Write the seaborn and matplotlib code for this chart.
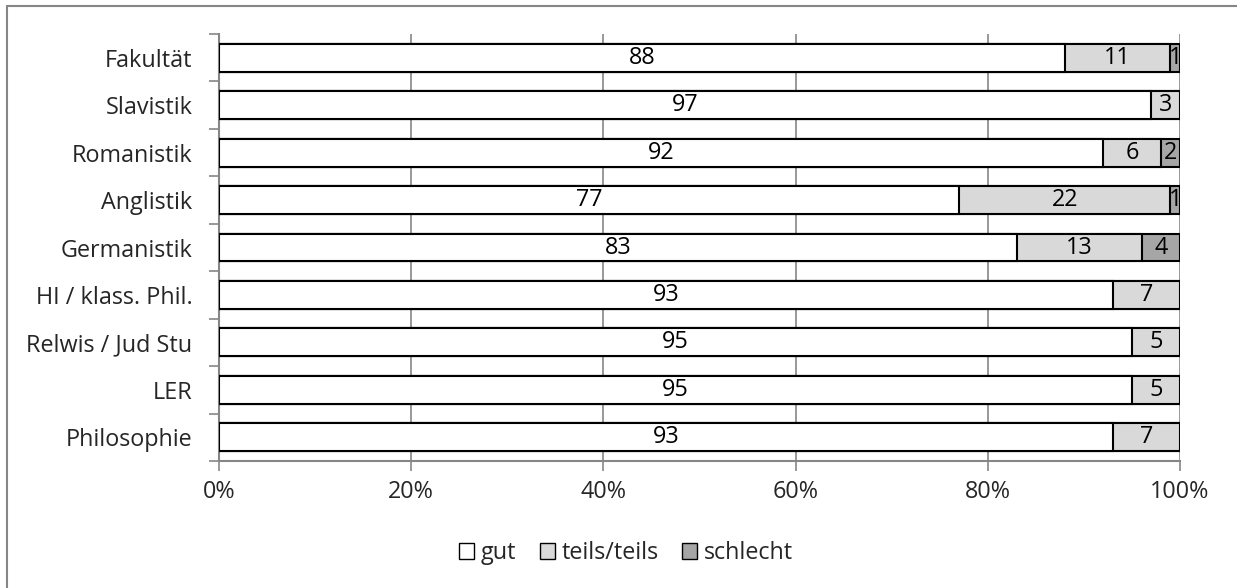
import matplotlib
matplotlib.use("Agg")
import matplotlib.pyplot as plt
import seaborn as sns
import pandas as pd
import numpy as np
from matplotlib.patches import Patch
from matplotlib.lines import Line2D
from matplotlib.ticker import FuncFormatter, FixedLocator

categories = ["Fakultät", "Slavistik", "Romanistik", "Anglistik", "Germanistik",
              "HI / klass. Phil.", "Relwis / Jud Stu", "LER", "Philosophie"]
gut = [88, 97, 92, 77, 83, 93, 95, 95, 93]
teils = [11, 3, 6, 22, 13, 7, 5, 5, 7]
schlecht = [1, 0, 2, 1, 4, 0, 0, 0, 0]
series_names = ["gut", "teils/teils", "schlecht"]
colors = ["#FFFFFF", "#D9D9D9", "#A6A6A6"]

sns.set_theme(style="white")
plt.rcParams["font.family"] = ["Open Sans", "DejaVu Sans"]
FS = 16.8

df = pd.DataFrame({"cat": categories, "gut": gut, "teils": teils, "schlecht": schlecht})
df["c1"] = df["gut"]
df["c2"] = df["gut"] + df["teils"]
df["c3"] = df["c2"] + df["schlecht"]

fig = plt.figure(figsize=(12.37, 5.88), dpi=100)
ax = fig.add_axes([219 / 1237, 1 - 461 / 588, (1180 - 219) / 1237, (461 - 34) / 588])

# stacked bars: draw the cumulative totals from longest to shortest
for col, color in zip(["c3", "c2", "c1"], colors[::-1]):
    sns.barplot(data=df, x=col, y="cat", orient="h", color=color, saturation=1,
                width=0.59, edgecolor="black", linewidth=1.5, ax=ax, zorder=3)

# segment value labels
for i, row in df.iterrows():
    left = 0
    for key in ["gut", "teils", "schlecht"]:
        v = row[key]
        if v > 0:
            ax.text(left + v / 2, i, f"{v}", ha="center", va="center",
                    fontsize=FS, color="black", zorder=5)
        left += v

ax.set_xlim(0, 100)
ax.set_ylim(len(categories) - 0.5, -0.5)
ax.set_xlabel("")
ax.set_ylabel("")

grid_col = "#868686"
ax.xaxis.set_major_locator(FixedLocator([0, 20, 40, 60, 80, 100]))
ax.xaxis.set_major_formatter(FuncFormatter(lambda v, p: f"{v:.0f}%"))
ax.grid(axis="x", color=grid_col, linewidth=1.2, zorder=0)
ax.set_axisbelow(True)

for s in ["top", "right"]:
    ax.spines[s].set_visible(False)
for s in ["left", "bottom"]:
    ax.spines[s].set_color(grid_col)
    ax.spines[s].set_linewidth(1.5)

ax.tick_params(axis="x", which="major", direction="out", length=7, width=1.2,
               color=grid_col, labelsize=FS, pad=7, bottom=True)
ax.set_yticks(np.arange(len(categories)))
ax.set_yticklabels(categories)
ax.tick_params(axis="y", which="major", length=0, labelsize=FS, pad=19)
ax.set_yticks(np.arange(len(categories) + 1) - 0.5, minor=True)
ax.tick_params(axis="y", which="minor", direction="out", length=7, width=1.2,
               color=grid_col, left=True)

handles = [Patch(facecolor=c, edgecolor="black", linewidth=1.0, label=n)
           for c, n in zip(colors, series_names)]
fig.legend(handles=handles, loc="center", bbox_to_anchor=(0.506, 1 - 553 / 588),
           ncol=3, frameon=False, fontsize=FS, handlelength=0.64, handleheight=0.64,
           handletextpad=0.3, columnspacing=1.0)

# outer chart frame
fig.add_artist(Line2D([6.5 / 1237, 6.5 / 1237], [0, 1 - 5.5 / 588],
                      transform=fig.transFigure, color=grid_col, linewidth=1.5))
fig.add_artist(Line2D([6.5 / 1237, 1], [1 - 5.5 / 588, 1 - 5.5 / 588],
                      transform=fig.transFigure, color=grid_col, linewidth=1.5))

fig.savefig("out.png", dpi=100, facecolor="white")
